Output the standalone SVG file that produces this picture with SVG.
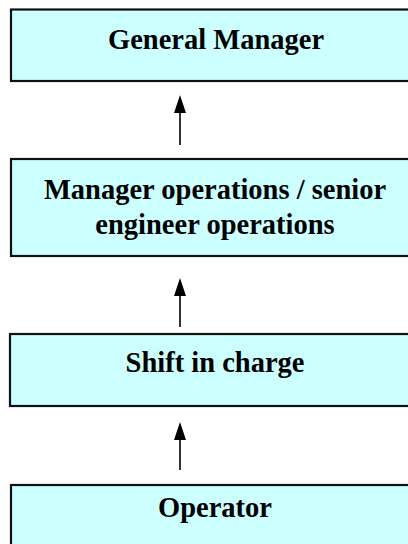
<svg xmlns="http://www.w3.org/2000/svg" width="408" height="544" viewBox="0 0 408 544">
<style>
.box{fill:#CCFFFF;stroke:#111;stroke-width:2.2}
.lbl{font-family:"Liberation Serif","Times New Roman",serif;font-weight:bold;font-size:28.5px;fill:#000;text-anchor:middle}
.conn{stroke:#000;stroke-width:1.6;fill:none}
.head{fill:#000}
</style>
<rect width="408" height="544" fill="#fff"/>
<g id="connectors">
<path d="M180,113 L180,145" class="conn"/>
<path d="M180,113 L174,113 L180,95 L186,113 Z" class="head"/>
<path d="M180,295 L180,327" class="conn"/>
<path d="M180,296 L174,296 L180,278 L186,296 Z" class="head"/>
<path d="M180,440 L180,470" class="conn"/>
<path d="M180,440 L174,440 L180,422 L186,440 Z" class="head"/>
</g>
<g id="general-manager">
<rect class="box" x="11" y="9.5" width="420" height="71.5"/>
<text class="lbl" x="216" y="49">General Manager</text>
</g>
<g id="manager-operations">
<rect class="box" x="11" y="159" width="420" height="97"/>
<text class="lbl" x="215" y="199">Manager operations / senior</text>
<text class="lbl" x="215" y="234">engineer operations</text>
</g>
<g id="shift-in-charge">
<rect class="box" x="10" y="334" width="420" height="72"/>
<text class="lbl" x="215" y="372">Shift in charge</text>
</g>
<g id="operator">
<rect class="box" x="11" y="485" width="420" height="100"/>
<text class="lbl" x="215" y="517">Operator</text>
</g>
</svg>
